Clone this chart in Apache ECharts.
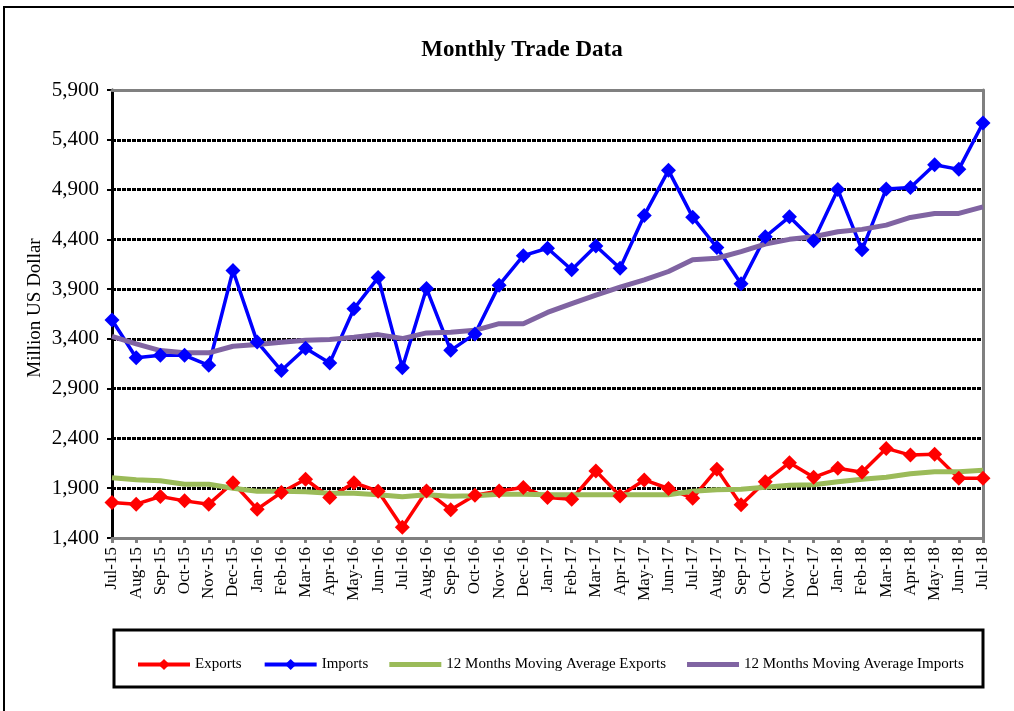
<!DOCTYPE html>
<html>
<head>
<meta charset="utf-8">
<script src="https://cdn.jsdelivr.net/npm/echarts@6/dist/echarts.min.js"></script>
<style>
html,body{margin:0;padding:0;background:#fff;}
#chart{width:1014px;height:711px;}
</style>
</head>
<body>
<div id="chart"></div>
<script>
var categories = ["Jul-15","Aug-15","Sep-15","Oct-15","Nov-15","Dec-15","Jan-16","Feb-16","Mar-16","Apr-16","May-16","Jun-16",
"Jul-16","Aug-16","Sep-16","Oct-16","Nov-16","Dec-16","Jan-17","Feb-17","Mar-17","Apr-17","May-17","Jun-17",
"Jul-17","Aug-17","Sep-17","Oct-17","Nov-17","Dec-17","Jan-18","Feb-18","Mar-18","Apr-18","May-18","Jun-18","Jul-18"];

var exportsData = [1757,1740,1817,1773,1740,1955,1690,1857,1990,1807,1955,1870,
1507,1873,1683,1830,1873,1907,1807,1790,2073,1823,1983,1897,
1800,2090,1733,1966,2156,2010,2100,2060,2300,2233,2240,2000,
2000];

var importsData = [3590,3210,3235,3235,3135,4087,3370,3082,3306,3159,3703,4016,
3109,3906,3285,3450,3940,4236,4310,4094,4333,4110,4640,5093,
4623,4318,3953,4426,4626,4386,4900,4295,4906,4920,5150,5103,
5568];

var maExports = [2005,1985,1975,1940,1940,1900,1870,1870,1865,1850,1850,1835,
1815,1835,1820,1825,1840,1840,1835,1835,1835,1835,1835,1835,
1870,1885,1890,1910,1930,1935,1965,1990,2010,2045,2065,2065,
2080];

var maImports = [3426,3350,3283,3260,3260,3326,3343,3366,3386,3393,3416,3443,
3403,3460,3466,3486,3553,3553,3666,3754,3840,3920,3993,4077,
4194,4210,4277,4353,4400,4426,4476,4500,4543,4620,4660,4660,
4726];

var yMin = 1400, yMax = 5900, yStep = 500;
var titleText = "Monthly Trade Data";
var yAxisTitle = "Million US Dollar";
var seriesNames = ['Exports','Imports','12 Months Moving Average Exports','12 Months Moving Average Imports'];

var FONT = '"Liberation Serif", "Times New Roman", serif';
var chart = echarts.init(document.getElementById('chart'), null, {renderer:'canvas'});
var barIcon = 'path://M0,0 L52,0 L52,5 L0,5 Z';

var option = {
  backgroundColor: '#ffffff',
  animation: false,
  grid: {left: 112, right: 31, top: 90, bottom: 173, containLabel: false},
  legend: {
    left: 131, top: 652,
    itemWidth: 52, itemHeight: 14, itemGap: 21,
    textStyle: {fontFamily: FONT, fontSize: 15, color: '#000'},
    data: [
      {name: seriesNames[0], lineStyle: {width: 4}},
      {name: seriesNames[1], lineStyle: {width: 4}},
      {name: seriesNames[2], icon: barIcon},
      {name: seriesNames[3], icon: barIcon}
    ]
  },
  xAxis: [{
    type: 'category',
    data: categories,
    boundaryGap: false,
    z: 1,
    axisLine: {lineStyle: {color: '#808080', width: 3}},
    axisTick: {show: true, length: 5, lineStyle: {color: '#808080', width: 3}},
    axisLabel: {rotate: 90, interval: 0, margin: 9, fontFamily: FONT, fontSize: 17, color: '#000'},
    splitLine: {show: false}
  },{
    type: 'category',
    data: categories,
    boundaryGap: false,
    position: 'top',
    z: 1,
    axisLine: {lineStyle: {color: '#808080', width: 3}},
    axisTick: {show: false},
    axisLabel: {show: false},
    splitLine: {show: false}
  }],
  yAxis: [{
    type: 'value',
    min: yMin, max: yMax, interval: yStep,
    z: 0,
    axisLine: {show: true, lineStyle: {color: '#000', width: 3}},
    axisTick: {show: true, length: 5, lineStyle: {color: '#000', width: 2}},
    axisLabel: {margin: 13, fontFamily: FONT, fontSize: 21, color: '#000',
      formatter: function(v){ return v.toLocaleString('en-US'); }},
    splitLine: {show: true, lineStyle: {color: '#000', width: 3, type: [4,1]}}
  },{
    type: 'value',
    min: yMin, max: yMax, interval: yStep,
    position: 'right',
    z: 1,
    axisLine: {show: true, lineStyle: {color: '#808080', width: 3}},
    axisTick: {show: false},
    axisLabel: {show: false},
    splitLine: {show: false}
  }],
  series: [
    {name: seriesNames[0], type: 'line', data: exportsData, symbol: 'diamond', symbolSize: 15,
      itemStyle: {color: '#FF0000'}, lineStyle: {color: '#FF0000', width: 3.5}},
    {name: seriesNames[1], type: 'line', data: importsData, symbol: 'diamond', symbolSize: 15,
      itemStyle: {color: '#0000FF'}, lineStyle: {color: '#0000FF', width: 3.5}},
    {name: seriesNames[2], type: 'line', data: maExports, symbol: 'none',
      itemStyle: {color: '#9BBB59'}, lineStyle: {color: '#9BBB59', width: 5}},
    {name: seriesNames[3], type: 'line', data: maImports, symbol: 'none',
      itemStyle: {color: '#8064A2'}, lineStyle: {color: '#8064A2', width: 5}}
  ],
  graphic: [
    {type: 'rect', z: -10, silent: true,
      shape: {x: 4, y: 7, width: 1030, height: 730},
      style: {fill: 'none', stroke: '#000', lineWidth: 2}},
    {type: 'rect', z: -5, silent: true,
      shape: {x: 114, y: 630, width: 869, height: 57},
      style: {fill: 'none', stroke: '#000', lineWidth: 3}},
    {type: 'text', x: 522, y: 50, silent: true,
      style: {text: titleText, fontFamily: FONT, fontSize: 23, fontWeight: 'bold', fill: '#000',
        align: 'center', verticalAlign: 'middle'}},
    {type: 'text', x: 35, y: 308, rotation: Math.PI/2, silent: true,
      style: {text: yAxisTitle, fontFamily: FONT, fontSize: 19, fill: '#000',
        align: 'center', verticalAlign: 'middle'}}
  ]
};
chart.setOption(option);
</script>
</body>
</html>
